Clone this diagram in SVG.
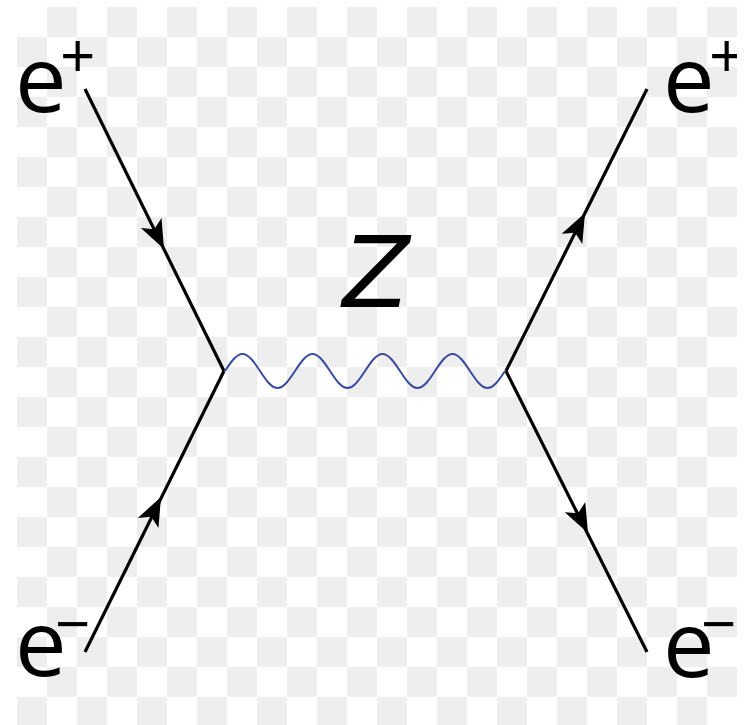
<svg xmlns="http://www.w3.org/2000/svg" xmlns:xlink="http://www.w3.org/1999/xlink" width="744" height="725" viewBox="0 0 744 725">
  <defs>
    <pattern id="checker" x="17" y="7" width="60" height="60" patternUnits="userSpaceOnUse">
      <rect x="30" y="0" width="30" height="30" fill="#eeeeee"/>
      <rect x="0" y="30" width="30" height="30" fill="#eeeeee"/>
    </pattern>
    <path id="ah" d="M0,0 L-29,-11.5 L-22,0 L-29,11.5 Z" fill="#000"/>
    <clipPath id="frame"><rect x="0" y="0" width="737" height="725"/></clipPath>
  </defs>
  <style>
    .fermion { stroke: #000; stroke-width: 3.2; fill: none; stroke-linecap: butt; }
    .boson { stroke: #3b4ca0; stroke-width: 2; fill: none; }
    .lbl { font-family: "Open Sans", "DejaVu Sans", sans-serif; fill: #000; }
    .e { font-size: 92px; }
    .sup { font-size: 62px; }
    .z { font-family: "DejaVu Sans", sans-serif; font-size: 98px; font-style: oblique; }
  </style>
  <rect x="0" y="0" width="744" height="725" fill="#ffffff"/>
  <rect x="17" y="7" width="720" height="720" fill="url(#checker)"/>

  <g id="connectors">
    <path class="fermion" d="M85,89 L224,371"/>
    <path class="fermion" d="M85,652 L224,371"/>
    <path class="fermion" d="M647,89 L506,371"/>
    <path class="fermion" d="M506,371 L647,652"/>
    <path class="boson" d="M225,371 c5.71,-8.71 11.17,-17 17.5,-17 s11.79,8.29 17.5,17 s11.17,17 17.5,17 s11.79,-8.29 17.5,-17 s11.17,-17 17.5,-17 s11.79,8.29 17.5,17 s11.17,17 17.5,17 s11.79,-8.29 17.5,-17 s11.17,-17 17.5,-17 s11.79,8.29 17.5,17 s11.17,17 17.5,17 s11.79,-8.29 17.5,-17 s11.17,-17 17.5,-17 s11.79,8.29 17.5,17 s11.17,17 17.5,17 s11.79,-8.29 17.5,-17"/>
    <use xlink:href="#ah" transform="translate(164,249) rotate(63.76)"/>
    <use xlink:href="#ah" transform="translate(161,497) rotate(-63.7)"/>
    <use xlink:href="#ah" transform="translate(585,213) rotate(-63.4)"/>
    <use xlink:href="#ah" transform="translate(588,533) rotate(63.35)"/>
  </g>

  <g id="label-e-plus-in">
    <text class="lbl"><tspan class="e" x="15" y="112">e</tspan><tspan class="sup" x="60" y="78">+</tspan></text>
  </g>
  <g id="label-e-minus-in">
    <text class="lbl"><tspan class="e" x="15" y="676">e</tspan><tspan class="sup" x="55" y="646">−</tspan></text>
  </g>
  <g id="label-e-plus-out" clip-path="url(#frame)">
    <text class="lbl"><tspan class="e" x="663" y="112">e</tspan><tspan class="sup" x="709" y="78">+</tspan></text>
  </g>
  <g id="label-e-minus-out">
    <text class="lbl"><tspan class="e" x="663" y="677">e</tspan><tspan class="sup" x="701" y="646">−</tspan></text>
  </g>
  <g id="label-z">
    <text class="lbl z" x="376" y="307" text-anchor="middle">Z</text>
  </g>
</svg>
